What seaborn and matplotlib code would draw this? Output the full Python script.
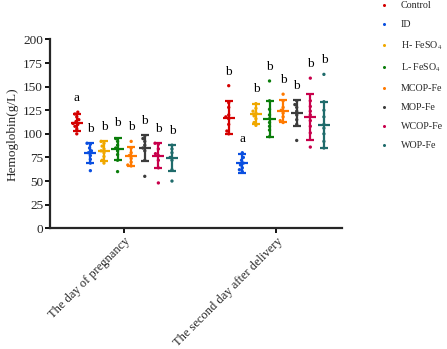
import numpy as np
import pandas as pd
import matplotlib
matplotlib.use("Agg")
import matplotlib.pyplot as plt
from matplotlib.lines import Line2D
import seaborn as sns

# ---------------- data ----------------
timepoints = ["The day of pregnancy", "The second day after delivery"]
groups = ["Control", "ID", "H- FeSO$_4$", "L- FeSO$_4$", "MCOP-Fe", "MOP-Fe", "WCOP-Fe", "WOP-Fe"]
colors = ["#d40000", "#0a4fe0", "#f0a800", "#0a7d0a", "#ff7a00", "#3c3c3c", "#c8004b", "#1f6b6b"]

# individual values (g/L), day of pregnancy
pts_day1 = [
    [100, 105, 108, 110, 111, 113, 115, 118, 121, 123],
    [61, 69, 73, 77, 80, 82, 85, 89, 90],
    [69, 72, 76, 80, 82, 84, 87, 90, 92],
    [60, 72, 78, 82, 85, 88, 92, 95],
    [66, 67, 70, 74, 77, 80, 85, 92],
    [55, 72, 82, 85, 88, 92, 95, 98],
    [48, 64, 72, 77, 79, 84, 89, 90],
    [50, 62, 72, 75, 80, 84, 88],
]
# individual values (g/L), second day after delivery
pts_day2 = [
    [100, 103, 110, 116, 118, 120, 128, 133, 151],
    [60, 62, 64, 67, 69, 72, 75, 80],
    [109, 112, 116, 119, 122, 124, 127, 132],
    [97, 104, 108, 112, 116, 120, 126, 135, 156],
    [112, 114, 118, 122, 125, 128, 135, 142],
    [93, 110, 115, 120, 124, 128, 131, 135],
    [86, 101, 108, 114, 120, 124, 129, 135, 159],
    [85, 92, 100, 106, 110, 118, 125, 134, 163],
]
mean_day1 = [112, 79.5, 81.5, 84, 76, 85, 77, 74.5]
sd_day1 = [9.5, 10.5, 10.5, 12, 10, 14, 13, 14]
mean_day2 = [117, 69, 121, 115.5, 124, 122, 118, 109.5]
sd_day2 = [17.5, 10, 11, 19, 11.5, 13.5, 24.5, 24.5]
letters_day1 = ["a", "b", "b", "b", "b", "b", "b", "b"]
letters_day2 = ["b", "a", "b", "b", "b", "b", "b", "b"]

yticks = [0, 25, 50, 75, 100, 125, 150, 175, 200]

# ---------------- style ----------------
sns.set_style("ticks")
plt.rcParams["font.family"] = ["Liberation Serif", "DejaVu Serif"]
plt.rcParams["mathtext.fontset"] = "stix"

fig = plt.figure(figsize=(4.47, 3.49), dpi=100)
ax = fig.add_axes([0.112, 0.346, 0.653, 0.541])

step = 0.0895
pts_all = [pts_day1, pts_day2]
means = [mean_day1, mean_day2]
sds = [sd_day1, sd_day2]
letters = [letters_day1, letters_day2]

rows = []
for t, pts in enumerate(pts_all):
    for g, vals in enumerate(pts):
        pos = t + (g - 3.5) * step
        for v in vals:
            rows.append({"pos": pos, "value": v, "group": groups[g]})
df = pd.DataFrame(rows)

sns.swarmplot(data=df, x="pos", y="value", hue="group", hue_order=groups,
              palette=colors, native_scale=True, orient="x", size=2.4,
              linewidth=0, ax=ax, legend=False)

for t in range(2):
    for g in range(8):
        pos = t + (g - 3.5) * step
        m = means[t][g]
        s = sds[t][g]
        c = colors[g]
        ax.errorbar(pos, m, yerr=s, fmt="none", ecolor=c, elinewidth=1.6,
                    capsize=2.6, capthick=1.6, zorder=4)
        ax.hlines(m, pos - 0.04, pos + 0.04, colors=c, linewidth=1.6, zorder=4)
        top = max(max(pts_all[t][g]), m + s)
        ax.text(pos, top + 15, letters[t][g], ha="center", va="center",
                fontsize=9.5, color="black")

ax.set_xlim(-0.489, 1.432)
ax.set_ylim(0, 200)
ax.set_yticks(yticks)
ax.set_yticklabels([str(v) for v in yticks], fontsize=9.5)
ax.set_xticks([0, 1])
ax.set_xticklabels(timepoints, rotation=45, ha="right", rotation_mode="anchor", fontsize=9)
ax.set_xlabel("")
ax.set_ylabel("Hemoglobin(g/L)", fontsize=9.5, labelpad=3)
for side in ["top", "right"]:
    ax.spines[side].set_visible(False)
for side in ["left", "bottom"]:
    ax.spines[side].set_linewidth(1.6)
ax.tick_params(axis="both", width=1.3, length=3.5, color="black", pad=1.5)

handles = [Line2D([0], [0], marker="o", linestyle="none", markersize=2.2,
                  markerfacecolor=c, markeredgewidth=0) for c in colors]
fig.legend(handles, groups, loc="upper left", bbox_to_anchor=(0.838, 1.008),
           frameon=False, fontsize=7.2, handletextpad=1.2, labelspacing=1.0,
           handlelength=1.0, borderaxespad=0)

fig.savefig("out.png", dpi=100)
